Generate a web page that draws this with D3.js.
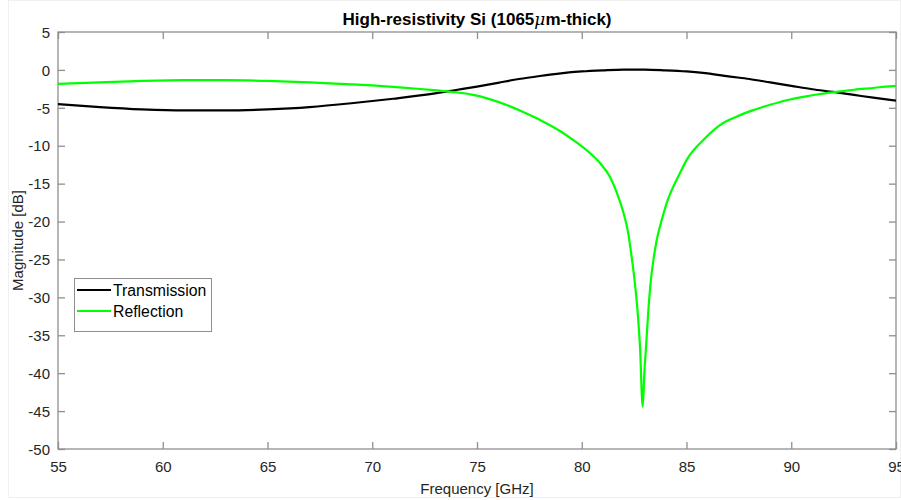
<!DOCTYPE html>
<html><head><meta charset="utf-8">
<script src="https://cdn.jsdelivr.net/npm/d3@7"></script>
<style>body{margin:0;background:#fff}svg{display:block}text{font-family:Arial,"Liberation Sans",sans-serif}</style>
</head><body>
<svg id="c" width="901" height="500"></svg>
<script>
const xTicks = [55,60,65,70,75,80,85,90,95];
const yTicks = [5,0,-5,-10,-15,-20,-25,-30,-35,-40,-45,-50];
const transFreq = [55,57,59,61,63,65,67,69,71,73,74,75,76,77,78,79,80,81,82,83,84,85,86,87,88,89,90,91,92,93,94,95];
const transDb =   [-4.5,-4.9,-5.2,-5.35,-5.35,-5.2,-4.9,-4.4,-3.8,-3.1,-2.65,-2.2,-1.7,-1.2,-0.8,-0.45,-0.2,-0.05,0.05,0.05,-0.05,-0.2,-0.45,-0.85,-1.2,-1.65,-2.1,-2.55,-2.9,-3.3,-3.7,-4.05];
const reflFreq = [55,58,61,63,65,67,69,70,71,72,73.23,74.0,74.82,75.6,76.42,77.2,78.01,78.96,79.6,80.39,80.87,81.35,81.68,81.98,82.21,82.37,82.52,82.66,82.78,82.91,82.995,83.07,83.18,83.30,83.42,83.58,83.79,84.05,84.69,85.01,85.8,86.6,87.36,88.19,88.99,89.78,90.56,91.37,92.25,93,94,94.5,95];
const reflDb =   [-1.85,-1.55,-1.35,-1.35,-1.45,-1.65,-1.9,-2.05,-2.25,-2.45,-2.74,-2.95,-3.3,-3.85,-4.63,-5.55,-6.6,-8.06,-9.25,-10.96,-12.28,-14.13,-16.24,-18.75,-21.39,-24.42,-27.72,-31.68,-36.52,-44.43,-39.6,-36.52,-31.68,-27.72,-25.08,-22.44,-20.07,-17.6,-13.6,-11.86,-9.25,-7.27,-6.2,-5.3,-4.6,-4.0,-3.55,-3.18,-2.86,-2.62,-2.35,-2.2,-2.1];
const seriesNames = ["Transmission","Reflection"];
const seriesColors = ["#000000","#00ff00"];

const svg = d3.select("#c");
const L=58,R=896,T=32,B=449;
const x = d3.scaleLinear().domain([55,95]).range([L,R]);
const y = d3.scaleLinear().domain([-50,5]).range([B,T]);
const axisCol = "#8f8f8f", txtCol="#262626";

svg.append("rect").attr("x",8.5).attr("y",0.5).attr("width",892).attr("height",497).attr("fill","none").attr("stroke","#f0f0f0");

svg.append("rect").attr("x",L).attr("y",T).attr("width",R-L).attr("height",B-T).attr("fill","none").attr("stroke",axisCol).attr("stroke-width",1.3);

const fmt = d => String(d);
const xb = svg.append("g").attr("transform",`translate(0,${B})`).call(d3.axisBottom(x).tickValues(xTicks).tickSize(-7).tickPadding(10).tickFormat(fmt));
const xt = svg.append("g").attr("transform",`translate(0,${T})`).call(d3.axisTop(x).tickValues(xTicks).tickSize(-7).tickFormat(""));
const yl = svg.append("g").attr("transform",`translate(${L},0)`).call(d3.axisLeft(y).tickValues(yTicks).tickSize(-7).tickPadding(8).tickFormat(fmt));
const yr = svg.append("g").attr("transform",`translate(${R},0)`).call(d3.axisRight(y).tickValues(yTicks).tickSize(-7).tickFormat(""));
[xb,xt,yl,yr].forEach(a=>{a.select(".domain").remove();a.selectAll("line").attr("stroke",axisCol).attr("stroke-width",1.3);a.selectAll("text").attr("fill",txtCol).style("font-size","15px").style("font-family","Arial, 'Liberation Sans', sans-serif");});
yl.selectAll("text").attr("dy","0.35em");
xb.selectAll("text").attr("dy","0.85em");

svg.append("clipPath").attr("id","pc").append("rect").attr("x",L).attr("y",T).attr("width",R-L).attr("height",B-T);
const line = d3.line().x(d=>x(d[0])).y(d=>y(d[1])).curve(d3.curveMonotoneX);
const tData = transFreq.map((f,i)=>[f,transDb[i]]);
const rData = reflFreq.map((f,i)=>[f,reflDb[i]]);
svg.append("path").datum(tData).attr("d",line).attr("fill","none").attr("stroke",seriesColors[0]).attr("stroke-width",2.2).attr("clip-path","url(#pc)");
svg.append("path").datum(rData).attr("d",line).attr("fill","none").attr("stroke",seriesColors[1]).attr("stroke-width",2.2).attr("clip-path","url(#pc)");

const title = svg.append("text").attr("x",(L+R)/2).attr("y",25).attr("text-anchor","middle").attr("fill","#000").style("font-size","17px").style("font-weight","bold");
title.append("tspan").text("High-resistivity Si (1065");
title.append("tspan").text("μ").style("font-style","italic").style("font-family","'DejaVu Serif',serif").style("font-weight","normal");
title.append("tspan").text("m-thick)");

svg.append("text").attr("x",(L+R)/2).attr("y",494).attr("text-anchor","middle").attr("fill",txtCol).style("font-size","15px").text("Frequency [GHz]");
svg.append("text").attr("transform",`translate(23,${(T+B)/2}) rotate(-90)`).attr("text-anchor","middle").attr("fill",txtCol).style("font-size","15px").text("Magnitude [dB]");

const lg = svg.append("g");
lg.append("rect").attr("x",74.5).attr("y",278.5).attr("width",137).attr("height",53).attr("fill","#fff").attr("stroke",axisCol).attr("stroke-width",1);
seriesNames.forEach((n,i)=>{
  const yy = 290 + i*21;
  lg.append("line").attr("x1",77).attr("x2",111).attr("y1",yy).attr("y2",yy).attr("stroke",seriesColors[i]).attr("stroke-width",2.2);
  lg.append("text").attr("x",113).attr("y",yy).attr("dy","0.35em").attr("fill","#000").style("font-size","15.8px").text(n);
});
</script>
</body></html>
